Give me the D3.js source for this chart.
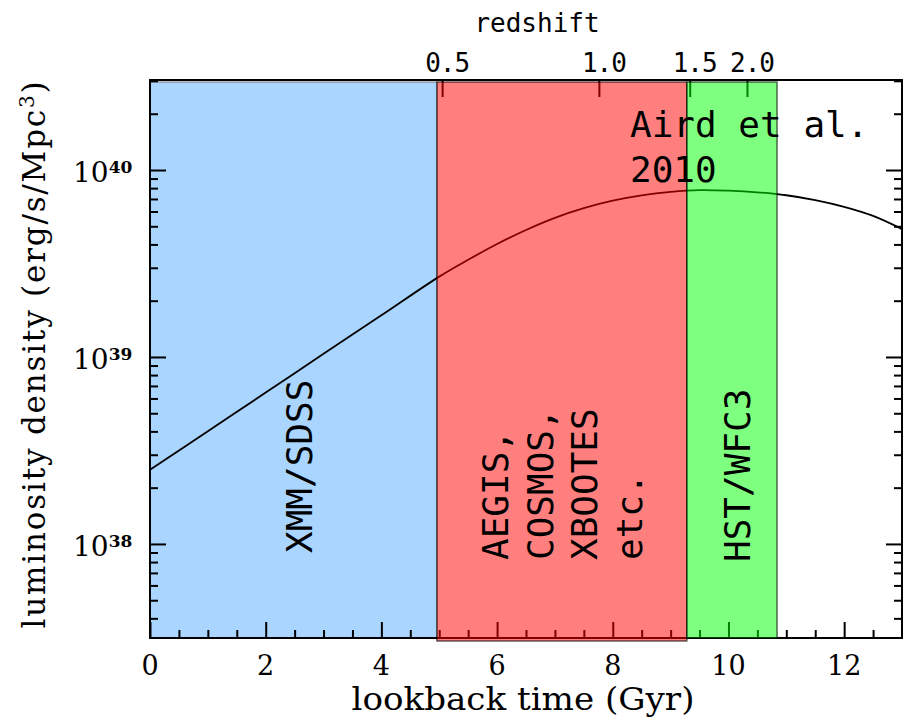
<!DOCTYPE html>
<meta charset="utf-8">
<style>
body { margin: 0; background: #fff; }
svg text { fill: #000; }
.serif { font-family: "DejaVu Serif", serif; }
.mono { font-family: "DejaVu Sans Mono", monospace; }
</style>
<body>
<div id="chart"></div>
<script src="https://d3js.org/d3.v7.min.js"></script>
<script>

var width = 905,
    height = 721;

// luminosity density curve (Aird et al. 2010)
var lookback = [0, 1, 2, 3, 4, 5, 5.5, 6, 6.5, 7, 7.5, 8, 8.5, 9, 9.5, 10, 10.5, 11, 11.5, 12, 12.5, 13];
var lumDensity = [2.49e38, 4.01e38, 6.45e38, 1.04e39, 1.67e39, 2.69e39, 3.31e39, 4.02e39, 4.78e39, 5.55e39,
    6.25e39, 6.85e39, 7.31e39, 7.63e39, 7.80e39, 7.75e39, 7.60e39, 7.33e39, 6.90e39, 6.35e39, 5.68e39, 4.83e39];

// survey coverage, in lookback time (Gyr)
var surveyNames = [["XMM/SDSS"], ["AEGIS,", "COSMOS,", "XBOOTES", "etc."], ["HST/WFC3"]];
var surveyStart = [0, 4.96, 9.28];
var surveyEnd = [4.96, 9.28, 10.84];
var surveyColors = ["#aad5ff", "#ff0000", "#00ff00"];

// top axis: redshift and its lookback time
var redshiftLabels = ["0.5", "1.0", "1.5", "2.0"];
var redshiftLookback = [5.05, 7.76, 9.33, 10.32];

var xMajor = [0, 2, 4, 6, 8, 10, 12];
var yMajor = [1e38, 1e39, 1e40];
var yExponents = ["38", "39", "40"];

var plotL = 150, plotR = 902, plotT = 80, plotB = 638;

var x = d3.scaleLinear().domain([0, 13]).range([plotL, plotR]);
var y = d3.scaleLog().domain([3.14e37, 3.03e40]).range([plotB, plotT]);

var svg = d3.select("#chart").append("svg")
    .attr("width", width)
    .attr("height", height);

// blue band sits under the curve
svg.append("rect")
    .attr("x", x(surveyStart[0]))
    .attr("y", plotT + 2)
    .attr("width", x(surveyEnd[0]) - x(surveyStart[0]))
    .attr("height", plotB - plotT - 2)
    .attr("fill", surveyColors[0])
    .attr("stroke", "#777")
    .attr("stroke-width", 1);

var line = d3.line()
    .x(function(d, i) { return x(lookback[i]); })
    .y(function(d) { return y(d); })
    .curve(d3.curveCatmullRom.alpha(0.5));

svg.append("path")
    .datum(lumDensity)
    .attr("d", line)
    .attr("fill", "none")
    .attr("stroke", "#000")
    .attr("stroke-width", 1.8);

// minor ticks
var xMinor = d3.range(0.5, 13, 0.5).filter(function(t) { return t % 2 !== 0; });
var yMinor = [];
[37, 38, 39, 40].forEach(function(e) {
    for (var m = 2; m <= 9; m++) {
        var v = m * Math.pow(10, e);
        if (v > y.domain()[0] && v < y.domain()[1]) yMinor.push(v);
    }
});

function ticks(axis, vals, size, pos) {
    var g = svg.append("g")
        .attr("transform", pos)
        .call(axis.tickValues(vals).tickSize(size).tickFormat(""));
    g.select(".domain").remove();
    g.selectAll(".tick line").attr("stroke", "#000").attr("stroke-width", 2);
    return g;
}

ticks(d3.axisBottom(x), xMajor, -16, "translate(0," + plotB + ")");
ticks(d3.axisBottom(x), xMinor, -8, "translate(0," + plotB + ")");
ticks(d3.axisLeft(y), yMajor, -16, "translate(" + plotL + ",0)");
ticks(d3.axisLeft(y), yMinor, -8, "translate(" + plotL + ",0)");
ticks(d3.axisRight(y), yMajor, -16, "translate(" + plotR + ",0)");
ticks(d3.axisRight(y), yMinor, -8, "translate(" + plotR + ",0)");
ticks(d3.axisTop(x), redshiftLookback, -17, "translate(0," + plotT + ")");

// frame
svg.append("rect")
    .attr("x", plotL)
    .attr("y", plotT)
    .attr("width", plotR - plotL)
    .attr("height", plotB - plotT)
    .attr("fill", "none")
    .attr("stroke", "#000")
    .attr("stroke-width", 2);

// red and green bands, half transparent over curve and ticks
[1, 2].forEach(function(i) {
    svg.append("rect")
        .attr("x", x(surveyStart[i]))
        .attr("y", plotT + 2)
        .attr("width", x(surveyEnd[i]) - x(surveyStart[i]))
        .attr("height", plotB - plotT - 2 + (i === 1 ? 3 : 0))
        .attr("fill", surveyColors[i])
        .attr("fill-opacity", 0.5)
        .attr("stroke", "#000")
        .attr("stroke-opacity", 0.6)
        .attr("stroke-width", 1.5);
});

// bottom tick labels
svg.append("g").selectAll("text")
    .data(xMajor)
    .join("text")
    .attr("class", "serif")
    .attr("x", function(d) { return x(d); })
    .attr("y", 675)
    .attr("text-anchor", "middle")
    .attr("font-size", 27)
    .text(function(d) { return d; });

svg.append("text")
    .attr("class", "serif")
    .attr("x", 523)
    .attr("y", 710)
    .attr("text-anchor", "middle")
    .attr("font-size", 31)
    .attr("textLength", 343)
    .attr("lengthAdjust", "spacingAndGlyphs")
    .text("lookback time (Gyr)");

// left tick labels 10^n
var yl = svg.append("g").selectAll("text")
    .data(yMajor)
    .join("text")
    .attr("class", "serif")
    .attr("x", 73)
    .attr("y", function(d) { return y(d) + 12; })
    .attr("font-size", 28);
yl.append("tspan").text("10");
yl.append("tspan")
    .attr("font-size", 17)
    .attr("font-weight", "bold")
    .attr("dy", -9)
    .text(function(d, i) { return yExponents[i]; });

var yTitle = svg.append("text")
    .attr("class", "serif")
    .attr("transform", "translate(45,354) rotate(-90)")
    .attr("text-anchor", "middle")
    .attr("font-size", 31)
    .attr("letter-spacing", 1.8);
yTitle.append("tspan").text("luminosity density (erg/s/Mpc");
yTitle.append("tspan").attr("font-size", 20).attr("dy", -11).text("3");
yTitle.append("tspan").attr("dy", 11).text(")");

// top redshift labels
svg.append("g").selectAll("text")
    .data(redshiftLabels)
    .join("text")
    .attr("class", "mono")
    .attr("x", function(d, i) { return x(redshiftLookback[i]) + 5; })
    .attr("y", 72)
    .attr("text-anchor", "middle")
    .attr("font-size", 26)
    .attr("letter-spacing", -1)
    .text(function(d) { return d; });

svg.append("text")
    .attr("class", "mono")
    .attr("x", 537)
    .attr("y", 32)
    .attr("text-anchor", "middle")
    .attr("font-size", 26)
    .text("redshift");

// survey names, rotated
var nameBase = [[312], [508, 553, 597, 642], [750]];
var nameStart = [553, 560, 562];
surveyNames.forEach(function(lines, i) {
    lines.forEach(function(s, j) {
        svg.append("text")
            .attr("class", "mono")
            .attr("transform", "translate(" + nameBase[i][j] + "," + nameStart[i] + ") rotate(-90)")
            .attr("font-size", 36)
            .text(s);
    });
});

svg.append("text")
    .attr("class", "mono")
    .attr("x", 630)
    .attr("y", 137)
    .attr("font-size", 36)
    .text("Aird et al.");
svg.append("text")
    .attr("class", "mono")
    .attr("x", 630)
    .attr("y", 182)
    .attr("font-size", 36)
    .text("2010");

</script>
